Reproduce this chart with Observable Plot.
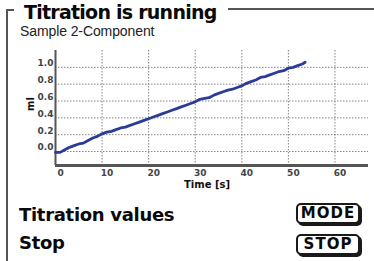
<!DOCTYPE html>
<html>
<head>
<meta charset="utf-8">
<script src="https://cdn.jsdelivr.net/npm/d3@7"></script>
<script src="https://cdn.jsdelivr.net/npm/@observablehq/plot@0.6"></script>
<style>
  html, body { margin:0; padding:0; background:#fff; }
  #page { position:relative; width:374px; height:261px; overflow:hidden; background:#fff; color:#111; font-family:"DejaVu Sans", Verdana, sans-serif; }
  .abs { position:absolute; white-space:nowrap; }
  #title { left:24px; top:1px; font-size:19px; font-weight:bold; letter-spacing:-0.75px; color:#0a0a0a; }
  #subtitle { left:20px; top:23px; font-size:14px; letter-spacing:-0.1px; color:#222; font-family:"Liberation Sans Narrow","Liberation Sans",Arial,sans-serif; }
  .big { font-size:18px; font-weight:bold; letter-spacing:-0.3px; color:#0a0a0a; }
  .btn { position:absolute; left:296px; width:60px; height:17px; border:2px solid #1a1a1a; border-radius:5px; box-shadow:2px 2px 0 #1a1a1a; font-size:15px; font-weight:bold; text-align:center; line-height:17px; letter-spacing:1px; background:#fff; color:#0a0a0a; }
  #chart { position:absolute; left:0; top:44px; }
  .line { position:absolute; background:#555; }
</style>
</head>
<body>
<div id="page">
  <div class="line" style="left:6px; top:9px; width:2px; height:252px;"></div>
  <div class="line" style="left:6px; top:9px; width:8px; height:2px;"></div>
  <div class="line" style="left:228px; top:8px; width:146px; height:2px;"></div>
  <div id="title" class="abs">Titration is running</div>
  <div id="subtitle" class="abs">Sample 2-Component</div>
  <div id="chart"></div>
  <div class="abs big" style="left:19px; top:204px;">Titration values</div>
  <div class="abs big" style="left:19px; top:232px;">Stop</div>
  <div class="btn" style="top:203px;">MODE</div>
  <div class="btn" style="top:234px;">STOP</div>
</div>
<script>
const time = [0,1,2,3,4,5,6,7,8,9,10,11,12,13,14,15,16,17,18,19,20,21,22,23,24,25,26,27,28,29,30,31,32,33,34,35,36,37,38,39,40,41,42,43,44,45,46,47,48,49,50,51,52,53,53.6];
const volume = [-0.01,-0.01,0.02,0.05,0.07,0.09,0.10,0.13,0.16,0.18,0.21,0.23,0.24,0.26,0.28,0.29,0.31,0.33,0.35,0.37,0.39,0.41,0.43,0.45,0.47,0.49,0.51,0.53,0.55,0.57,0.59,0.62,0.63,0.64,0.67,0.69,0.71,0.73,0.74,0.76,0.78,0.81,0.83,0.85,0.88,0.89,0.91,0.93,0.95,0.96,0.99,1.00,1.02,1.04,1.06];
const xTicks = [0,10,20,30,40,50,60];
const yTicks = [0,0.2,0.4,0.6,0.8,1.0];
const xLabel = "Time [s]";
const yLabel = "ml";

const data = time.map((t,i)=>({t, v: volume[i]}));

const chart = Plot.plot({
  width: 374, height: 150,
  marginLeft: 55, marginRight: 6, marginTop: 6, marginBottom: 29,
  x: {domain: [0, 67.2]},
  y: {domain: [-0.166, 1.2]},
  style: {fontFamily: "DejaVu Sans", fontSize: "9px", color: "#444", background: "transparent", overflow: "visible"},
  marks: [
    Plot.gridY(yTicks, {stroke: "#777", strokeOpacity: 0.9, strokeDasharray: "1.5,1.5"}),
    Plot.gridX(xTicks.slice(1), {stroke: "#777", strokeOpacity: 0.9, strokeDasharray: "1.5,1.5"}),
    Plot.ruleX([0], {stroke: "#555", strokeWidth: 2}),
    Plot.ruleY([-0.166], {stroke: "#555", strokeWidth: 3}),
    Plot.axisX(xTicks, {tickSize: 0, tickPadding: 4, dx: 5, label: null, fontWeight: "bold"}),
    Plot.axisY(yTicks, {tickSize: 0, tickPadding: 2, dy: -4, tickFormat: d => d.toFixed(1), label: null, fontWeight: "bold"}),
    Plot.text([xLabel], {frameAnchor: "bottom", dy: 22, dx: -5, fontWeight: "bold", fontSize: 10, fill: "#111"}),
    Plot.text([yLabel], {frameAnchor: "left", dx: -25, dy: 3, rotate: -90, fontWeight: "bold", fontSize: 10, fill: "#111"}),
    Plot.line(data, {x: "t", y: "v", stroke: "#2a3c96", strokeWidth: 2.8})
  ]
});
document.getElementById("chart").appendChild(chart);
</script>
</body>
</html>
